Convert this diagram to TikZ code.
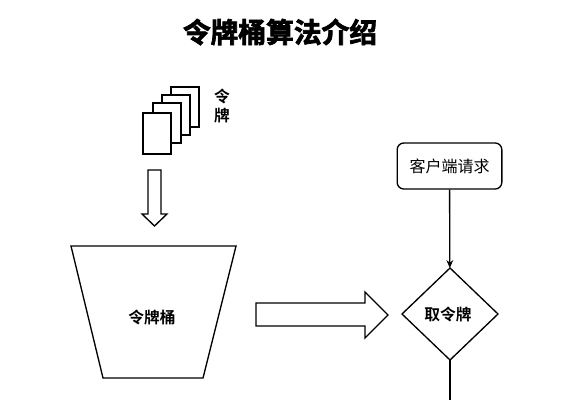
\documentclass[tikz,border=0pt]{standalone}
\usepackage{fontspec}
\usetikzlibrary{shapes.geometric,arrows.meta}
\setmainfont{Noto Sans CJK SC}
\newfontfamily\titlefont[FakeBold=2.6]{Noto Sans CJK SC Bold}
\newfontfamily\labelfont{Noto Sans CJK SC Bold}
\tikzset{
	card/.style      = {draw, line width=1.7pt, fill=white, minimum width=21pt, minimum height=30.5pt, inner sep=0pt, outer sep=0pt},
	outline/.style   = {draw, line width=1pt, line join=miter},
	boldlabel/.style = {font=\labelfont\fontsize{11.8}{13}\selectfont, inner sep=0pt}
}
\begin{document}
\begin{tikzpicture}[
		x=0.75pt, y=-0.75pt,
		>={Stealth[length=6pt,width=5pt]}
		]
	\useasboundingbox (0,0) rectangle (563,400);
	%--- title ---
	\node[font=\titlefont\fontsize{20.8}{24}\selectfont, inner sep=0pt] (title) at (280,32) {令牌桶算法介绍};
	
	%--- tokens ---
	\node[card] (card4) at (185,107)   {};
	\node[card] (card3) at (176,115)   {};
	\node[card] (card2) at (167,123)   {};
	\node[card] (card1) at (157,133.5) {};
	\node[boldlabel] (ling) at (222,96)  {令};
	\node[boldlabel] (pai)  at (222,116) {牌};
	
	%--- hollow arrows ---
	\draw[outline] (148,170) -- (161,170) -- (161,214) -- (167,214) -- (154.5,226) -- (142,214) -- (148,214) -- cycle;
	\draw[outline] (256,303) -- (365,303) -- (365,292) -- (388,315) -- (365,338) -- (365,326) -- (256,326) -- cycle;
	
	%--- bucket ---
	\draw[outline] (71,246) -- (236,246) -- (203,378) -- (103,378) -- cycle;
	\node[boldlabel] (bucket) at (152,317) {令牌桶};
	
	%--- request flow ---
	\node[draw, line width=1pt, rounded corners=5pt, minimum width=78.5pt, minimum height=34.5pt, inner sep=0pt, font=\fontsize{12}{14}\selectfont] (client) at (449.5,166) {客户端请求};
	\node[draw, line width=1pt, diamond, aspect=1.04, minimum width=72pt, minimum height=69pt, inner sep=0pt, outer sep=0pt] (take) at (450,314) {};
	\node[boldlabel] (takelabel) at (448,314) {取令牌};
	\coordinate (out) at (450,400);
	
	\draw[->, line width=1pt] (client) -- (take);
	\draw[line width=1pt] (take) -- (out);
\end{tikzpicture}
\end{document}
